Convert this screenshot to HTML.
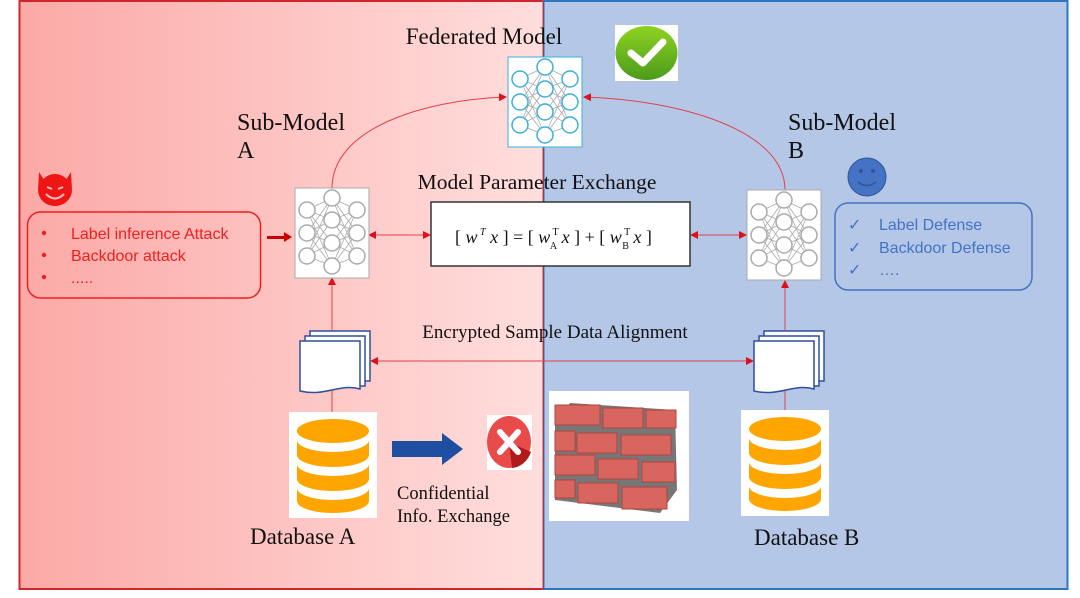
<!DOCTYPE html>
<html><head><meta charset="utf-8"><style>
html,body{margin:0;padding:0;background:#fff;}
svg{display:block;}
.serif{font-family:"Liberation Serif",serif;fill:#111;}
.sans{font-family:"Liberation Sans",sans-serif;}
</style></head><body>
<svg width="1080" height="598" viewBox="0 0 1080 598" xmlns="http://www.w3.org/2000/svg">
<defs>
<linearGradient id="lg" x1="0" x2="1" y1="0" y2="0">
<stop offset="0" stop-color="#fba9a6"/><stop offset="1" stop-color="#ffdedd"/>
</linearGradient>
<marker id="ar" markerWidth="8" markerHeight="8" refX="7" refY="4" orient="auto-start-reverse" markerUnits="userSpaceOnUse">
<path d="M0,0 L8,4 L0,8 z" fill="#d9121b"/></marker>
<linearGradient id="gc" x1="0" x2="0" y1="0" y2="1"><stop offset="0" stop-color="#8ed321"/><stop offset="1" stop-color="#4c9a1c"/></linearGradient>
<g id="nn">
<rect x="0" y="0" width="74" height="90" fill="#fff"/>
<g stroke="#aaa" stroke-width="0.8">
<path d="M12,22 L37,10 M12,22 L37,32 M12,22 L37,55 M12,22 L37,78 M12,45 L37,10 M12,45 L37,32 M12,45 L37,55 M12,45 L37,78 M12,68 L37,10 M12,68 L37,32 M12,68 L37,55 M12,68 L37,78 M62,22 L37,10 M62,22 L37,32 M62,22 L37,55 M62,22 L37,78 M62,45 L37,10 M62,45 L37,32 M62,45 L37,55 M62,45 L37,78 M62,68 L37,10 M62,68 L37,32 M62,68 L37,55 M62,68 L37,78"/>
</g>
<g fill="#fff" stroke-width="1.5">
<circle cx="12" cy="22" r="8"/><circle cx="12" cy="45" r="8"/><circle cx="12" cy="68" r="8"/>
<circle cx="37" cy="10" r="8"/><circle cx="37" cy="32" r="8"/><circle cx="37" cy="55" r="8"/><circle cx="37" cy="78" r="8"/>
<circle cx="62" cy="22" r="8"/><circle cx="62" cy="45" r="8"/><circle cx="62" cy="68" r="8"/>
</g>
</g>
<g id="doc">
<path d="M10,0 H70 V50 H10 Z" fill="#fff" stroke="#2f4f9e" stroke-width="1.5"/>
<path d="M5,5 H65 V55 H5 Z" fill="#fff" stroke="#2f4f9e" stroke-width="1.5"/>
<path d="M0,10 H60 V58 C40,52 25,66 0,60 Z" fill="#fff" stroke="#2f4f9e" stroke-width="1.5"/>
</g>
<g id="db">
<rect x="0" y="0" width="88" height="106" fill="#fff"/>
<g fill="#fea500">
<ellipse cx="44" cy="19" rx="36" ry="12"/>
<path d="M8,28 v15 a36,12 0 0 0 72,0 v-15 a36,12 0 0 1 -72,0z"/>
<path d="M8,52 v15 a36,12 0 0 0 72,0 v-15 a36,12 0 0 1 -72,0z"/>
<path d="M8,76 v13 a36,12 0 0 0 72,0 v-13 a36,12 0 0 1 -72,0z"/>
</g>
</g>
</defs>
<rect x="19.5" y="1" width="524" height="588" fill="url(#lg)" stroke="#d0262b" stroke-width="2"/>
<rect x="543.5" y="1" width="524" height="588" fill="#b4c7e7" stroke="#2e75c0" stroke-width="2"/>
<line x1="543.5" y1="1" x2="543.5" y2="589" stroke="#d0262b" stroke-width="1"/>

<text x="484" y="44" text-anchor="middle" class="serif" font-size="23">Federated Model</text>
<text x="237" y="130" class="serif" font-size="24">Sub-Model</text>
<text x="237" y="158" class="serif" font-size="24">A</text>
<text x="788" y="130" class="serif" font-size="24">Sub-Model</text>
<text x="788" y="158" class="serif" font-size="24">B</text>
<text x="537" y="189" text-anchor="middle" class="serif" font-size="21.5">Model Parameter Exchange</text>
<text x="555" y="338" text-anchor="middle" class="serif" font-size="19">Encrypted Sample Data Alignment</text>
<text x="250" y="544" class="serif" font-size="23">Database A</text>
<text x="754" y="545" class="serif" font-size="23">Database B</text>
<text x="397" y="499" class="serif" font-size="18.5">Confidential</text>
<text x="397" y="522" class="serif" font-size="18.5">Info. Exchange</text>

<g stroke="#e0414a" stroke-width="1" fill="none">
<path d="M332,188 C332,130 420,100 506,97" marker-end="url(#ar)"/>
<path d="M785,190 C785,130 680,100 584,97" marker-end="url(#ar)"/>
<path d="M369,235 H430" marker-start="url(#ar)" marker-end="url(#ar)"/>
<path d="M691,235 H746" marker-start="url(#ar)" marker-end="url(#ar)"/>
<path d="M332,330 V278" marker-end="url(#ar)"/>
<path d="M785,330 V281" marker-end="url(#ar)"/>
<path d="M371,361 H753" marker-start="url(#ar)" marker-end="url(#ar)"/>
<path d="M332,390 V412"/>
<path d="M785,390 V410"/>
</g>

<g transform="translate(508,57)"><use href="#nn" stroke="#3cb0d8"/></g>
<g transform="translate(295,188)"><use href="#nn" stroke="#aaa"/></g>
<g transform="translate(747,190)"><use href="#nn" stroke="#aaa"/></g>

<rect x="431" y="202" width="259" height="64" fill="#fff" stroke="#333" stroke-width="1.5"/>
<text x="455" y="243" class="serif" font-size="18" fill="#333"><tspan>[ </tspan><tspan font-style="italic">w</tspan><tspan font-size="10" dy="-8" font-style="italic"> T</tspan><tspan dy="8" font-style="italic"> x</tspan><tspan> ] = [ </tspan><tspan font-style="italic">w</tspan><tspan font-size="10" dy="-8"> T</tspan><tspan font-size="10" dx="-8" dy="14">A</tspan><tspan dy="-6" font-style="italic"> x</tspan><tspan> ] + [ </tspan><tspan font-style="italic">w</tspan><tspan font-size="10" dy="-8"> T</tspan><tspan font-size="10" dx="-8" dy="14">B</tspan><tspan dy="-6" font-style="italic"> x</tspan><tspan> ]</tspan></text>

<g transform="translate(300,331)"><use href="#doc"/></g>
<g transform="translate(754,331)"><use href="#doc"/></g>

<g transform="translate(289,412)"><use href="#db"/></g>
<g transform="translate(741,410)"><use href="#db"/></g>

<path d="M392,441 H442 V433 L463,449 L442,465 V457 H392 Z" fill="#1e4fa0"/>
<rect x="487" y="415" width="45" height="55" fill="#fff"/>
<ellipse cx="509" cy="442" rx="22" ry="26" fill="#e94b4b"/>
<path d="M509,442 L531,452 A22,26 0 0 1 512,468 Z" fill="#b01a1a"/>
<path d="M500,432 L518,452 M518,432 L500,452" stroke="#fff" stroke-width="6" stroke-linecap="round"/>

<rect x="549" y="391" width="140" height="130" fill="#fff"/>
<g>
<path d="M555,425 L570,403 L675,410 L677,490 L660,513 L555,500 Z" fill="#777"/>
<g fill="#d9655f" stroke="#b0443f" stroke-width="1">
<rect x="555" y="405" width="45" height="20"/><rect x="603" y="408" width="40" height="20"/><rect x="646" y="410" width="30" height="18"/>
<rect x="555" y="431" width="20" height="20"/><rect x="577" y="433" width="40" height="20"/><rect x="621" y="435" width="50" height="20"/>
<rect x="555" y="455" width="40" height="20"/><rect x="598" y="459" width="40" height="20"/><rect x="642" y="462" width="33" height="20"/>
<rect x="555" y="480" width="20" height="18"/><rect x="578" y="483" width="40" height="20"/><rect x="622" y="487" width="45" height="22"/>
</g>
</g>

<rect x="615" y="25" width="63" height="56" fill="#fff"/>
<ellipse cx="646.5" cy="53" rx="31" ry="27" fill="url(#gc)"/>
<path d="M631,53 L643,63 L663,42" stroke="#fff" stroke-width="7" fill="none" stroke-linecap="round" stroke-linejoin="round"/>

<g fill="#f01515">
<path d="M39,172 L46,183 L64,183 L71,172 L72,190 A17,16 0 0 1 38,190 Z"/>
<circle cx="55" cy="190" r="16"/>
</g>
<path d="M47,187 l5,2 M63,187 l-5,2 M46,194 Q55,203 64,194" stroke="#fbb" stroke-width="2" fill="none"/>

<rect x="27.5" y="212" width="233" height="86" rx="13" fill="none" stroke="#f01f1f" stroke-width="1.5"/>
<g class="sans" fill="#f01f1f" font-size="16">
<circle cx="44" cy="233" r="2.2"/><circle cx="44" cy="255" r="2.2"/><circle cx="44" cy="277" r="2.2"/>
<text x="71" y="239">Label inference Attack</text>
<text x="71" y="261">Backdoor attack</text>
<text x="71" y="283">.....</text>
</g>
<path d="M267,236 H284 V232 L292,237 L284,242 V239 H267 Z" fill="#c00"/>

<circle cx="867" cy="177" r="19" fill="#4472c4" stroke="#2f5597"/>
<circle cx="861" cy="171" r="2" fill="#2f5597"/><circle cx="873" cy="171" r="2" fill="#2f5597"/>
<path d="M858,182 Q867,189 876,182" stroke="#2f5597" stroke-width="1.5" fill="none"/>

<rect x="835" y="203" width="197" height="87" rx="13" fill="none" stroke="#4472c4" stroke-width="1.5"/>
<g class="sans" fill="#4472c4" font-size="16">
<text x="848" y="230">✓</text><text x="848" y="253">✓</text><text x="848" y="275">✓</text>
<text x="879" y="230">Label Defense</text>
<text x="879" y="253">Backdoor Defense</text>
<text x="879" y="275">….</text>
</g>
</svg>
</body></html>
